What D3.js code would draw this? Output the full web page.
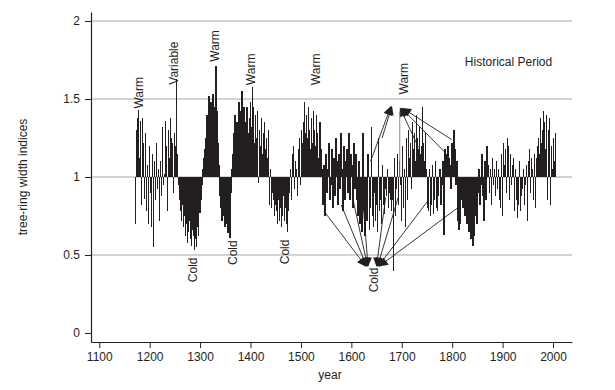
<!DOCTYPE html>
<html><head><meta charset="utf-8">
<script src="https://cdn.jsdelivr.net/npm/d3@7"></script>
<style>
html,body{margin:0;padding:0;background:#fff;}
svg{display:block;font-family:"Liberation Sans",Arial,sans-serif;}
</style></head>
<body><svg id="c" width="615" height="390"></svg>
<script>
// Tree-ring width indices, one value per 2-year step starting 1170
const startYear = 1170;
const yearStep = 2;
const values = [
 0.70,1.30,1.38,1.43,1.12,1.36,0.82,1.38,1.22,0.86, // 1170
 1.28,0.78,1.08,0.70,1.20,0.90,0.68,1.15,0.55,1.10, // 1190
 0.85,1.22,0.92,1.05,0.72,1.10,0.88,1.32,0.95,1.02, // 1210
 1.36,1.20,0.78,1.30,1.12,1.38,1.25,1.22,0.90,1.28, // 1230
 1.20,1.63,1.15,0.95,0.85,0.78,0.72,0.82,0.68,0.75, // 1250
 0.62,0.70,0.58,0.65,0.72,0.60,0.56,0.66,0.62,0.53, // 1270
 0.60,0.55,0.68,0.62,0.77,0.85,0.95,1.05,1.12,1.18, // 1290
 1.25,1.40,1.20,1.52,1.30,1.48,1.35,1.53,1.45,1.28, // 1310
 1.71,1.42,1.22,1.08,0.88,0.80,0.72,0.85,0.75,0.68, // 1330
 0.78,0.70,0.64,0.80,0.61,0.90,1.05,1.15,1.28,1.40, // 1350
 1.20,1.35,1.28,1.48,1.30,1.42,1.55,1.40,1.45,1.35, // 1370
 1.30,1.45,1.28,1.38,1.48,1.32,1.58,1.45,1.22,1.40, // 1390
 1.25,1.42,0.96,1.30,1.20,1.38,1.15,1.28,1.35,1.18, // 1410
 1.25,1.12,1.30,0.82,1.05,0.80,0.90,0.85,0.75,0.82, // 1430
 0.78,0.70,0.85,0.72,0.80,0.68,0.75,0.88,0.72,0.80, // 1450
 0.70,0.65,0.78,0.90,1.05,0.85,1.15,1.20,0.92,1.10, // 1470
 1.05,0.88,1.18,1.25,0.95,1.30,1.22,1.35,1.48,1.28, // 1490
 1.40,1.25,1.45,1.30,1.18,1.38,1.22,1.42,1.30,1.20, // 1510
 1.40,1.28,1.12,1.35,1.18,1.05,0.82,1.08,0.75,1.15, // 1530
 0.90,1.05,1.22,0.85,0.95,1.18,0.80,1.12,0.88,1.25, // 1550
 1.10,0.82,1.15,0.92,1.28,1.05,0.78,1.20,0.85,1.10, // 1570
 1.18,0.90,1.28,0.85,1.15,1.08,0.80,1.22,0.92,1.15, // 1590
 0.85,0.75,1.10,0.70,0.88,0.65,1.28,0.78,0.62,0.85, // 1610
 0.72,1.15,0.66,0.80,1.32,0.75,0.68,0.90,0.72,0.82, // 1630
 0.65,1.25,0.78,0.85,0.70,1.08,0.82,0.76,0.92,0.88, // 1650
 1.05,0.80,0.90,0.85,0.78,0.85,0.40,1.12,0.75,0.92, // 1670
 1.15,0.82,1.10,0.95,0.72,1.20,0.80,1.05,0.68,1.25, // 1690
 0.85,1.30,1.12,1.22,0.92,1.35,1.18,1.28,1.10,1.40, // 1710
 1.25,1.18,1.32,1.15,1.20,1.45,1.22,1.10,1.28,1.05, // 1730
 0.80,0.78,1.05,0.75,0.82,1.08,0.76,0.85,1.10,0.80, // 1750
 0.78,0.88,1.05,0.82,0.95,1.10,0.63,1.18,1.08,1.15, // 1770
 1.20,1.12,1.08,0.92,1.22,1.15,1.30,1.18,0.95,1.10, // 1790
 0.72,0.66,0.70,0.85,0.92,0.80,0.88,0.75,0.82,0.70, // 1810
 0.78,0.65,0.72,0.60,0.68,0.56,0.62,0.75,0.85,0.70, // 1830
 0.90,1.05,0.82,0.95,1.15,0.88,0.72,1.10,0.85,1.20, // 1850
 1.08,0.90,1.05,0.82,1.12,0.95,1.05,0.88,1.10,0.92, // 1870
 1.05,0.85,0.80,1.15,0.75,1.22,1.08,1.18,0.90,1.25, // 1890
 1.20,0.85,1.15,0.95,1.08,1.12,0.78,1.05,0.85,0.74, // 1910
 0.82,1.10,0.78,0.88,0.92,1.05,0.82,0.95,1.08,0.72, // 1930
 1.10,1.18,0.90,1.12,1.05,0.85,1.15,0.80,1.12,1.20, // 1950
 1.25,1.15,1.38,1.22,1.30,1.42,1.35,1.18,1.40,0.85, // 1970
 1.30,1.38,0.82,1.20,1.05,1.25,1.10,1.28            // 1990
];
const baseline = 1;
const xTicks = [1100,1200,1300,1400,1500,1600,1700,1800,1900,2000];
const yTicks = [0,0.5,1,1.5,2];
const gridValues = [0.5,1,1.5,2];

// Annotations: label, year position, index value position (centre of rotated text)
const warmLabels = [
  {t:"Warm", year:1178, v:1.54},
  {t:"Variable", year:1248, v:1.73},
  {t:"Warm", year:1330, v:1.84},
  {t:"Warm", year:1401, v:1.69},
  {t:"Warm", year:1530, v:1.69},
  {t:"Warm", year:1703, v:1.63}
];
const coldLabels = [
  {t:"Cold", year:1285, v:0.405},
  {t:"Cold", year:1365, v:0.515},
  {t:"Cold", year:1468, v:0.52},
  {t:"Cold", year:1645, v:0.34}
];
// arrows: [fromYear, fromValue, toYear, toValue]
const warmArrows = [
  [1638,1.10, 1678,1.45],
  [1661,1.25, 1680,1.45],
  [1733,1.19, 1697,1.44],
  [1785,1.16, 1700,1.44],
  [1799,1.24, 1702,1.44]
];
const warmVertical = [1696, 1.0, 1696, 1.42];
const coldArrows = [
  [1546,0.78, 1628,0.43],
  [1580,0.82, 1630,0.43],
  [1603,0.86, 1632,0.43],
  [1622,0.88, 1633,0.43],
  [1668,0.87, 1650,0.43],
  [1693,0.87, 1652,0.43],
  [1750,0.84, 1654,0.43],
  [1810,0.80, 1656,0.43]
];

const svg = d3.select("#c");
const ink = "#231f20";
const x = d3.scaleLinear().domain([1083.6, 2037.6]).range([91, 572]);
const y = d3.scaleLinear().domain([-0.0577, 2.0577]).range([342, 12]);

// gridlines
svg.append("g").selectAll("line").data(gridValues).join("line")
  .attr("x1", x.range()[0]).attr("x2", x.range()[1])
  .attr("y1", d => y(d)).attr("y2", d => y(d))
  .attr("stroke", "#a6a6a6").attr("stroke-width", 1);

// bars
const data = values.map((v,i) => ({year: startYear + i*yearStep, v}));
svg.append("g").attr("shape-rendering","crispEdges").selectAll("rect").data(data).join("rect")
  .attr("x", d => x(d.year))
  .attr("width", d => x(d.year + yearStep) - x(d.year) + 0.4)
  .attr("y", d => y(Math.max(d.v, baseline)))
  .attr("height", d => Math.abs(y(d.v) - y(baseline)))
  .attr("fill", ink);

// arrow marker
const defs = svg.append("defs");
defs.append("marker").attr("id","ah").attr("viewBox","0 0 10 10")
  .attr("refX",9).attr("refY",5).attr("markerWidth",11).attr("markerHeight",9)
  .attr("markerUnits","userSpaceOnUse").attr("orient","auto")
  .append("path").attr("d","M0,0L10,5L0,10Z").attr("fill", ink);

const arrows = svg.append("g");
arrows.selectAll("line.a").data(warmArrows.concat(coldArrows)).join("line")
  .attr("class","a")
  .attr("x1", d => x(d[0])).attr("y1", d => y(d[1]))
  .attr("x2", d => x(d[2])).attr("y2", d => y(d[3]))
  .attr("stroke", ink).attr("stroke-width", 0.9)
  .attr("marker-end","url(#ah)");
arrows.append("line")
  .attr("x1", x(warmVertical[0])).attr("y1", y(warmVertical[1]))
  .attr("x2", x(warmVertical[2])).attr("y2", y(warmVertical[3]))
  .attr("stroke", "#888").attr("stroke-width", 1);

// rotated labels
const lab = svg.append("g").attr("font-size", 12).attr("fill", ink);
lab.selectAll("text").data(warmLabels.concat(coldLabels)).join("text")
  .attr("transform", d => `translate(${x(d.year)},${y(d.v)}) rotate(-90)`)
  .attr("text-anchor","middle").attr("dy","0.35em")
  .text(d => d.t);

svg.append("text").attr("x", 508.5).attr("y", 66).attr("text-anchor","middle")
  .attr("font-size", 12).attr("fill", ink).text("Historical Period");

// axes
const xAxis = d3.axisBottom(x).tickValues(xTicks).tickFormat(d3.format("d"))
  .tickSize(6).tickSizeOuter(0).tickPadding(4);
const gx = svg.append("g").attr("transform","translate(0,342)").call(xAxis);
const yAxis = d3.axisLeft(y).tickValues(yTicks).tickFormat(d => d)
  .tickSize(6).tickSizeOuter(0).tickPadding(5);
const gy = svg.append("g").attr("transform","translate(91,0)").call(yAxis);
[gx, gy].forEach(g => {
  g.selectAll("path.domain").attr("stroke", ink).attr("stroke-width", 1.2);
  g.selectAll(".tick line").attr("stroke", ink).attr("stroke-width", 1);
  g.selectAll(".tick text").attr("fill", ink).attr("font-size", 12)
    .attr("font-family", '"Liberation Sans",Arial,sans-serif');
});

svg.append("text").attr("x", 330).attr("y", 379).attr("text-anchor","middle")
  .attr("font-size", 12).attr("fill", ink).text("year");
svg.append("text").attr("transform","translate(27,177) rotate(-90)")
  .attr("text-anchor","middle").attr("font-size", 12).attr("fill", ink)
  .text("tree-ring width indices");
</script></body></html>
